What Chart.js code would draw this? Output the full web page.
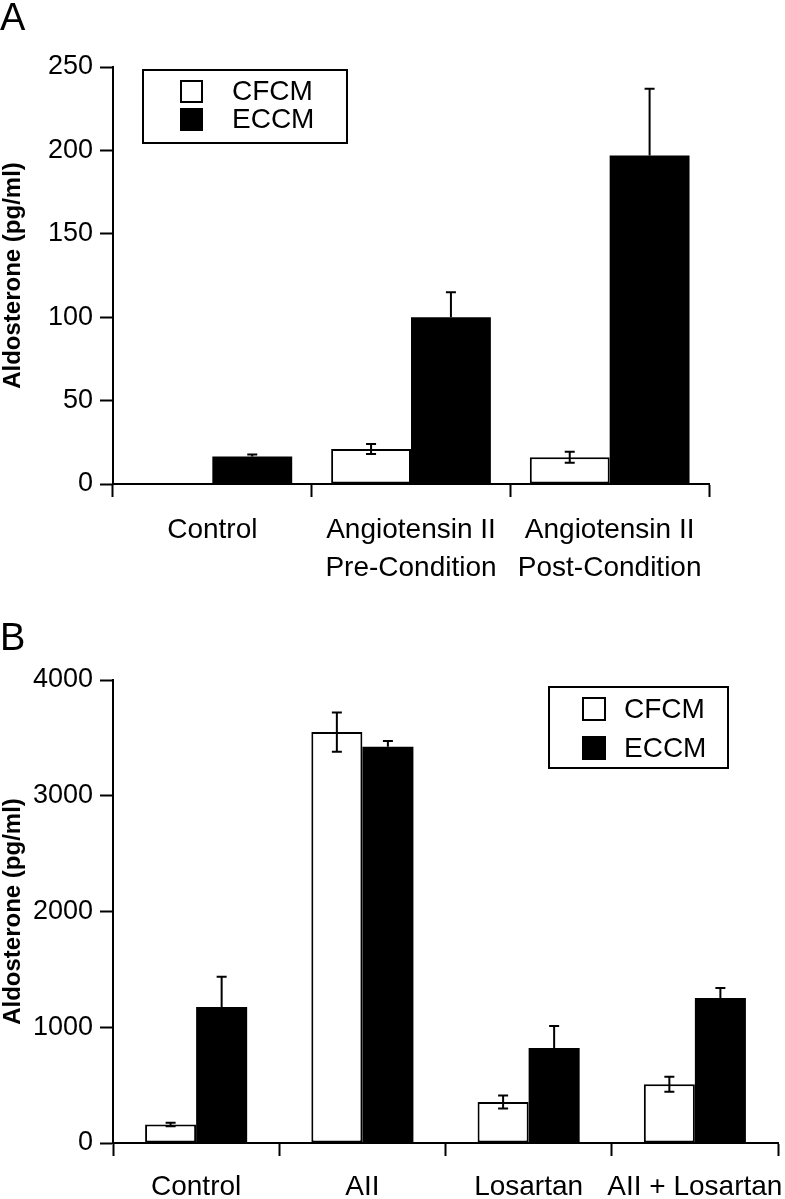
<!DOCTYPE html>
<html>
<head>
<meta charset="utf-8">
<script src="https://cdn.jsdelivr.net/npm/chart.js@4.4.1/dist/chart.umd.min.js"></script>
<style>
body { margin:0; background:#fff; }
.panel { position:absolute; left:0; width:785px; }
</style>
</head>
<body>
<div class="panel" style="top:0;height:600px"><canvas id="chartA"></canvas></div>
<div class="panel" style="top:600px;height:599px"><canvas id="chartB"></canvas></div>
<script>
var seriesNames = ["CFCM", "ECCM"];
var yTitle = "Aldosterone (pg/ml)";

// panel A
var labelsA = [["Control"], ["Angiotensin II", "Pre-Condition"], ["Angiotensin II", "Post-Condition"]];
var cfcmA = [0, 21, 16];
var cfcmErrA = [0, 3, 3.3];
var eccmA = [16.5, 100, 197];
var eccmErrA = [1.2, 15, 40];
var ticksA = [0, 50, 100, 150, 200, 250];

// panel B
var labelsB = ["Control", "AII", "Losartan", "AII + Losartan"];
var cfcmB = [160, 3550, 354, 508];
var cfcmErrB = [15, 170, 57, 65];
var eccmB = [1175, 3423, 821, 1252];
var eccmErrB = [262, 51, 190, 88];
var ticksB = [0, 1000, 2000, 3000, 4000];

var F = '"Liberation Sans", Arial, Helvetica, sans-serif';

// error bars: CFCM both ways, ECCM upward only
var errorBars = {
    id: 'errorBars',
    afterDatasetsDraw: function(chart) {
        var ctx = chart.ctx, y = chart.scales.y;
        chart.data.datasets.forEach(function(ds, i) {
            var meta = chart.getDatasetMeta(i);
            meta.data.forEach(function(bar, j) {
                var v = ds.data[j], e = ds.errors[j];
                if (!e) return;
                var top = y.getPixelForValue(v + e);
                var bot = ds.upOnly ? bar.y : y.getPixelForValue(v - e);
                ctx.save();
                ctx.strokeStyle = '#000';
                ctx.lineWidth = 2;
                ctx.beginPath();
                ctx.moveTo(bar.x, top); ctx.lineTo(bar.x, bot);
                ctx.moveTo(bar.x - 5, top); ctx.lineTo(bar.x + 5, top);
                if (!ds.upOnly) { ctx.moveTo(bar.x - 5, bot); ctx.lineTo(bar.x + 5, bot); }
                ctx.stroke();
                ctx.restore();
            });
        });
    }
};

// boxed legend + panel letter
var boxLegend = {
    id: 'boxLegend',
    afterDraw: function(chart, args, o) {
        var ctx = chart.ctx;
        ctx.save();
        ctx.lineWidth = 2;
        ctx.strokeStyle = '#000';
        ctx.strokeRect(o.x, o.y, o.w, o.h);
        ctx.font = '28px ' + F;
        ctx.textBaseline = 'middle';
        chart.data.datasets.forEach(function(ds, i) {
            var sy = o.y + o.rowTop + i * o.rowGap;
            ctx.fillStyle = ds.backgroundColor;
            ctx.fillRect(o.sx, sy, o.size, o.size);
            ctx.strokeRect(o.sx + 1, sy + 1, o.size - 2, o.size - 2);
            ctx.fillStyle = '#000';
            ctx.fillText(ds.label, o.tx, sy + o.size / 2 + 1);
        });
        ctx.font = '38px ' + F;
        ctx.textBaseline = 'alphabetic';
        ctx.fillText(o.letter, 0, o.letterY);
        ctx.restore();
    }
};

function makeChart(id, labels, cfcm, cfcmErr, eccm, eccmErr, ticks, catPct, pad, xHeight, xPad, legend) {
    return new Chart(document.getElementById(id), {
        type: 'bar',
        data: {
            labels: labels,
            datasets: [{
                label: seriesNames[0],
                data: cfcm,
                errors: cfcmErr,
                backgroundColor: '#fff',
                borderColor: '#000',
                borderWidth: 2,
                borderSkipped: false
            }, {
                label: seriesNames[1],
                data: eccm,
                errors: eccmErr,
                upOnly: true,
                backgroundColor: '#000',
                borderWidth: 0
            }]
        },
        options: {
            responsive: true,
            maintainAspectRatio: false,
            animation: false,
            layout: { padding: pad },
            datasets: { bar: { barPercentage: 1, categoryPercentage: catPct } },
            plugins: {
                legend: { display: false },
                tooltip: { enabled: false },
                boxLegend: legend
            },
            scales: {
                x: {
                    afterFit: function(s) { s.height = xHeight; s.paddingLeft = 0; s.paddingRight = 0; },
                    grid: { offset: true, drawOnChartArea: false, tickLength: 13, tickWidth: 2, tickColor: '#000' },
                    border: { color: '#000', width: 2 },
                    ticks: { color: '#000', padding: xPad, maxRotation: 0, autoSkip: false,
                             font: { size: 28, family: F, lineHeight: 1.36 } }
                },
                y: {
                    min: ticks[0],
                    max: ticks[ticks.length - 1],
                    afterBuildTicks: function(s) { s.ticks = ticks.map(function(v) { return { value: v }; }); },
                    afterFit: function(s) { s.width = 113; s.paddingTop = 0; s.paddingBottom = 0; },
                    grid: { drawOnChartArea: false, tickLength: 13, tickWidth: 2, tickColor: '#000' },
                    border: { color: '#000', width: 2 },
                    ticks: { color: '#000', padding: 7, font: { size: 27, family: F },
                             callback: function(v) { return String(v); } },
                    title: { display: true, text: yTitle, color: '#000', padding: 0,
                             font: { size: 24, weight: 'bold', family: F, lineHeight: 1.1 } }
                }
            }
        },
        plugins: [errorBars, boxLegend]
    });
}

makeChart('chartA', labelsA, cfcmA, cfcmErrA, eccmA, eccmErrA, ticksA, 0.804,
    { top: 67, right: 76, left: 0, bottom: 0 }, 116, 14,
    { x: 143, y: 70, w: 204, h: 73, sx: 180, size: 23, rowTop: 10, rowGap: 28, tx: 232, letter: 'A', letterY: 30 });

makeChart('chartB', labelsB, cfcmB, cfcmErrB, eccmB, eccmErrB, ticksB, 0.614,
    { top: 80, right: 7, left: 0, bottom: 0 }, 56, 12,
    { x: 549, y: 87, w: 179, h: 81, sx: 582, size: 24, rowTop: 10, rowGap: 39, tx: 624, letter: 'B', letterY: 50 });
</script>
</body>
</html>
